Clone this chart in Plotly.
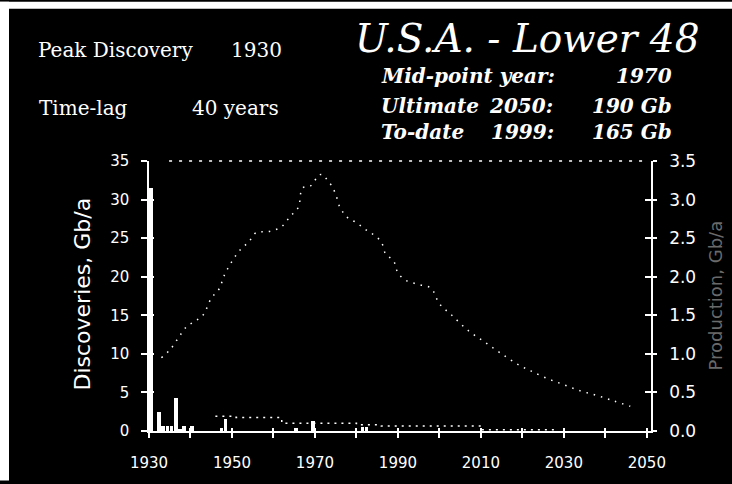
import plotly.graph_objects as go

# ---- data -------------------------------------------------------------
# Annual oil discoveries (Gb/a), backdated to discovery year
DISC_YEARS = [1930, 1932, 1933, 1934, 1935, 1936, 1937, 1938, 1940, 1947, 1948, 1965, 1969, 1981, 1982]
DISC_VALUES = [31.5, 2.5, 0.6, 0.6, 0.7, 4.3, 0.3, 0.6, 0.6, 0.35, 1.5, 0.35, 1.3, 0.5, 0.5]

# Average discovery rate by period (Gb/a)
AVG_YEARS = [1946, 1951, 1962, 1980, 1986, 2010, 2028]
AVG_VALUES = [1.9, 1.75, 1.0, 0.8, 0.65, 0.15, 0.15]

# Production (Gb/a), right-hand scale
PROD_YEARS = [1933, 1935, 1937, 1939, 1941, 1943, 1945, 1947, 1948, 1950, 1952, 1954,
              1956, 1958, 1960, 1962, 1964, 1966, 1967, 1969, 1971, 1972, 1973, 1974,
              1975, 1976, 1977, 1978, 1980, 1982, 1984, 1986, 1987, 1989, 1990, 1992,
              1995, 1998, 2000, 2003, 2007, 2011, 2015, 2019, 2022, 2026, 2030, 2034,
              2038, 2042, 2046]
PROD_VALUES = [0.95, 1.05, 1.2, 1.35, 1.42, 1.5, 1.72, 1.85, 2.0, 2.2, 2.35, 2.45,
               2.58, 2.58, 2.6, 2.65, 2.78, 2.9, 3.15, 3.18, 3.32, 3.32, 3.25, 3.18,
               3.07, 2.9, 2.82, 2.76, 2.7, 2.62, 2.55, 2.45, 2.3, 2.2, 2.05, 1.95,
               1.9, 1.85, 1.65, 1.5, 1.3, 1.15, 1.0, 0.86, 0.78, 0.68, 0.6, 0.52,
               0.46, 0.39, 0.32]

X_TICK_VALS = [1930, 1940, 1950, 1960, 1970, 1980, 1990, 2000, 2010, 2020, 2030, 2040, 2050]
X_TICK_TEXT = ["1930", "", "1950", "", "1970", "", "1990", "", "2010", "", "2030", "", "2050"]
LEFT_TICKS = [0, 5, 10, 15, 20, 25, 30, 35]
RIGHT_TICKS = [0.0, 0.5, 1.0, 1.5, 2.0, 2.5, 3.0, 3.5]

# ---- layout geometry (pixels) ----------------------------------------
W, H = 732, 484
ML, MR, MT, MB = 149, 81, 161, 50
PW, PH = W - ML - MR, H - MT - MB


def px(xp):
    return (xp - ML) / PW


def py(yp):
    return (H - MB - yp) / PH


WHITE = "#ffffff"
SANS = "DejaVu Sans"
SERIF = "DejaVu Serif"

fig = go.Figure()

fig.add_trace(go.Bar(
    x=DISC_YEARS, y=DISC_VALUES, width=0.9, offset=0,
    marker=dict(color=WHITE, line=dict(width=0)),
    xaxis="x", yaxis="y", showlegend=False, hoverinfo="skip",
))

fig.add_trace(go.Scatter(
    x=AVG_YEARS, y=AVG_VALUES, mode="lines", line_shape="hv",
    line=dict(color=WHITE, width=1.5, dash="2px,5px"),
    xaxis="x", yaxis="y", showlegend=False, hoverinfo="skip",
))

fig.add_trace(go.Scatter(
    x=PROD_YEARS, y=PROD_VALUES, mode="lines", line_shape="spline",
    line=dict(color=WHITE, width=1.5, dash="1.5px,6px"),
    xaxis="x", yaxis="y2", showlegend=False, hoverinfo="skip",
))

# empty traces that carry the inner tick marks
fig.add_trace(go.Scatter(x=[None], y=[None], xaxis="x2", yaxis="y",
                         showlegend=False, hoverinfo="skip"))
fig.add_trace(go.Scatter(x=[None], y=[None], xaxis="x", yaxis="y3",
                         showlegend=False, hoverinfo="skip"))
fig.add_trace(go.Scatter(x=[None], y=[None], xaxis="x", yaxis="y4",
                         showlegend=False, hoverinfo="skip"))

XR = [1930, 2051]

fig.update_layout(
    width=W, height=H, autosize=False,
    margin=dict(l=ML, r=MR, t=MT, b=MB, pad=0),
    paper_bgcolor="#000000", plot_bgcolor="#000000",
    bargap=0,
    xaxis=dict(
        range=XR, tickmode="array", tickvals=X_TICK_VALS, ticktext=X_TICK_TEXT,
        showgrid=False, zeroline=False, showline=True, linecolor=WHITE, linewidth=1.5,
        ticks="outside", ticklen=5, tickwidth=1.5, tickcolor=WHITE,
        tickfont=dict(family=SANS, size=15, color=WHITE), ticklabelstandoff=12,
    ),
    xaxis2=dict(
        range=XR, overlaying="x", anchor="y", tickmode="array", tickvals=X_TICK_VALS,
        showgrid=False, zeroline=False, showline=False, showticklabels=False,
        ticks="inside", ticklen=3, tickwidth=1.5, tickcolor=WHITE,
    ),
    yaxis=dict(
        range=[0, 35], tickmode="array", tickvals=LEFT_TICKS,
        showgrid=False, zeroline=False, showline=True, linecolor=WHITE, linewidth=1.5,
        ticks="outside", ticklen=6, tickwidth=1.5, tickcolor=WHITE,
        tickfont=dict(family=SANS, size=15, color=WHITE), ticklabelstandoff=9,
    ),
    yaxis2=dict(
        range=[0, 3.5], overlaying="y", anchor="x", side="right",
        tickmode="array", tickvals=RIGHT_TICKS, tickformat=".1f",
        showgrid=False, zeroline=False, showline=True, linecolor=WHITE, linewidth=1.5,
        ticks="outside", ticklen=4, tickwidth=1.5, tickcolor=WHITE,
        tickfont=dict(family=SANS, size=17, color=WHITE), ticklabelstandoff=9,
    ),
    yaxis3=dict(
        range=[0, 35], overlaying="y", anchor="x", side="left",
        tickmode="array", tickvals=LEFT_TICKS, showgrid=False, zeroline=False,
        showline=False, showticklabels=False,
        ticks="inside", ticklen=5, tickwidth=1.5, tickcolor=WHITE,
    ),
    yaxis4=dict(
        range=[0, 3.5], overlaying="y", anchor="x", side="right",
        tickmode="array", tickvals=RIGHT_TICKS, showgrid=False, zeroline=False,
        showline=False, showticklabels=False,
        ticks="inside", ticklen=6, tickwidth=1.5, tickcolor=WHITE,
    ),
)

# white scan border along the top and left edges, dotted frame top
fig.add_shape(type="rect", xref="paper", yref="paper", layer="below",
              x0=px(0), x1=px(9), y0=py(H), y1=py(0),
              fillcolor=WHITE, line=dict(width=0))
fig.add_shape(type="rect", xref="paper", yref="paper", layer="below",
              x0=px(0), x1=px(W), y0=py(7), y1=py(0),
              fillcolor=WHITE, line=dict(width=0))
fig.add_shape(type="line", xref="paper", yref="paper",
              x0=0.04, x1=0.99, y0=1, y1=1,
              line=dict(color=WHITE, width=1.5, dash="3px,7px"))


def note(text, x, y, size, family=SERIF, xanchor="left", italic=False, bold=False,
         color=WHITE, angle=0):
    if bold:
        text = f"<b>{text}</b>"
    if italic:
        text = f"<i>{text}</i>"
    fig.add_annotation(text=text, xref="paper", yref="paper", x=px(x), y=py(y),
                       xanchor=xanchor, yanchor="middle", showarrow=False,
                       textangle=angle,
                       font=dict(family=family, size=size, color=color))


# headline block
note("U.S.A. - Lower 48", 527, 37, 39, xanchor="center", italic=True)
note("Mid-point year:", 379, 75, 20, italic=True, bold=True)
note("1970", 674, 75, 20, xanchor="right", italic=True, bold=True)
note("Ultimate", 379, 105, 20, italic=True, bold=True)
note("2050:", 555, 105, 20, xanchor="right", italic=True, bold=True)
note("190 Gb", 674, 105, 20, xanchor="right", italic=True, bold=True)
note("To-date", 379, 132, 20, italic=True, bold=True)
note("1999:", 556, 132, 20, xanchor="right", italic=True, bold=True)
note("165 Gb", 674, 132, 20, xanchor="right", italic=True, bold=True)

note("Peak Discovery", 36, 49, 20)
note("1930", 284, 49, 20, xanchor="right")
note("Time-lag", 37, 107, 20)
note("40 years", 281, 107, 20, xanchor="right")

# axis titles
note("Discoveries, Gb/a", 83, 296, 22, family=SANS, xanchor="center", angle=-90)
note("Production, Gb/a", 716, 297, 18, family=SANS, xanchor="center", angle=-90,
     color="#6a6a6a")

fig.write_html("out.html")
